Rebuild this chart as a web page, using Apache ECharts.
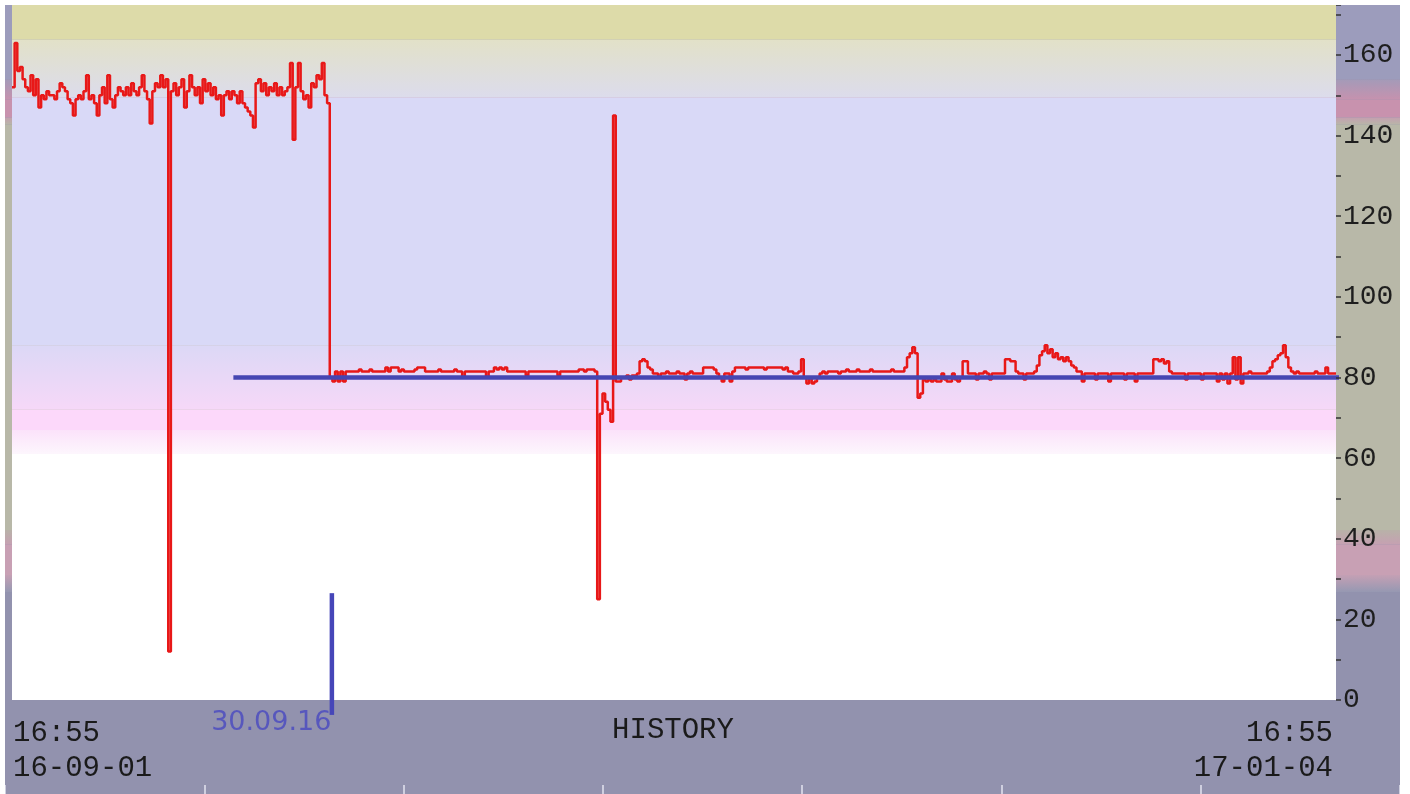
<!DOCTYPE html>
<html><head><meta charset="utf-8">
<script src="https://cdn.jsdelivr.net/npm/echarts@6/dist/echarts.min.js"></script>
<style>
html,body{margin:0;padding:0;background:#fff;width:1410px;height:794px;overflow:hidden}
#c{position:absolute;left:5px;top:5px;width:1395px;height:789px}
</style></head><body><div id="c"></div>
<script>
// ---- data ----
const startLabel = ['16:55', '16-09-01'];
const endLabel = ['16:55', '17-01-04'];
const titleText = 'HISTORY';
const markerLabel = '30.09.16';
const spanDays = 125;
const sampleStepDays = 0.25;
// readings before the setpoint change (every 6 h)
const tempHigh = [
152,163,156,157,154,152,151,155,150,154,
147,150,149,151,150,150,149,151,153,152,
151,149,148,145,149,150,149,151,155,149,
150,148,145,150,152,148,155,149,147,150,
152,151,150,152,150,153,151,150,152,155,
151,149,143,151,153,152,155,152,154,12,
151,153,150,152,154,147,151,155,152,150,
152,148,154,151,153,150,152,149,150,145,
150,151,149,151,150,148,151,148,147,146,
145,142,153,154,151,153,150,152,151,153,
150,152,150,151,152,158,139,152,158,151,
149,150,147,153,152,155,154,158,150,148
];
// readings after the setpoint change (every 6 h)
const tempLow = [
80,79,81.5,79,81.5,79,81.5,81.5,81.5,81.5,
81.5,82,81.5,81.5,81.5,82,81.5,81.5,81.5,81.5,
81.5,82.5,81.5,82.5,82.5,82.5,81.5,82,81.5,81.5,
81.5,81.5,82,82.5,82.5,82.5,81.5,81.5,81.5,81.5,
81.5,82,81.5,81.5,81.5,81.5,81.5,82,81.5,81.5,
80,81.5,81.5,81.5,81.5,81.5,81.5,81.5,81.5,80,
81.5,81.5,82.5,82,82.5,82,82.5,81.5,81.5,81.5,
81.5,81.5,81.5,81.5,80.5,81.5,81.5,81.5,81.5,81.5,
81.5,81.5,81.5,81.5,81.5,81.5,80.5,81.5,81.5,81.5,
81.5,81.5,81.5,81.5,82,82,81.5,82,82,82,
81.5,25,71,76,74,72,69,145,79,79,
80,80,80.5,79.5,80.5,80.5,81,84,84.5,84,
82.5,82,81,81,80,81,81,81.5,81,81,
81,81.5,81,81,79.5,81,81.5,81,81,81,
81,82.5,82.5,82.5,82.5,82,81,80,79,81,
81,79,81.5,82.5,82.5,82.5,82.5,82,82.5,82.5,
82.5,82.5,82.5,82.5,82,82.5,82.5,82.5,82.5,82.5,
82.5,82,82.5,81.5,81.5,81,81,81.5,84.5,80,
78.5,80,78.5,79,80,81,81.5,81,81.5,81.5,
81.5,81.5,81,81.5,81.5,82,81.5,81.5,81.5,82,
81.5,81.5,81.5,81.5,82,81.5,81.5,81.5,81.5,81.5,
81.5,81.5,82,81.5,81.5,81.5,81.5,82.5,85,86,
87.5,86,75,76,79.5,79,79.5,79,79.5,79,
79,81,79.5,79,79,81,79.5,79,80,84,
84,81,81,81,79.5,81,81,81.5,81,79.5,
81,81,81,81,81,84.5,84.5,84,84,81.5,
81,81,79.5,81,81,81,81.5,83,85.5,86.5,
88,86,87,85,86,84.5,85,84,85,84,
83,82.5,81.5,81.5,79,81,81,81,81,79.5,
81,81,81,81,79,81,81,81,81,81,
79.5,81,81,81,79,81,81,81,81,81,
81,84.5,84.5,84,84.5,83.5,84,81.5,81,81,
81,81,81,79.5,81,81,81,81,81,79.5,
81,81,81,81,81,79,81,79.5,81,78.5,
81,85,79.5,85,78.5,81,81,81.5,81,81,
81,81,81,81,81.5,82.5,84,84.5,85.5,86,
88,85,82.5,81.5,81,81.5,81,81,81,81,
81,81,81.5,81,81,81,82.5,81,81,81,81
];
const setpoint = 80;
const setpointFromDay = 20.9;
const setpointToDay = 125.4;
const markerDay = 30.2;
const markerRange = [26.5, -3.7];
const yMin = 0, yMax = 172.4, yTickStep = 10, yLabelStep = 20, yLabelMax = 160;
const plotBandLimits = [[163.8,172.4],[149.4,163.8],[88,149.4],[72,88],[67,72],[61,67],[0,61]];
const frameBandLimits = [[153.9,172.4],[148.9,153.9],[144.5,148.9],[142.7,144.5],[42.2,142.7],[38.5,42.2],[31,38.5],[26.8,31]];
const footTickCount = 7;

// ---- styles ----
const grad = (a, b) => ({type:'linear', x:0, y:0, x2:0, y2:1, colorStops:[{offset:0,color:a},{offset:1,color:b}]});
const plotBandColors = ['#dddba9', grad('#e2e1c8','#dcdcec'), '#d9d9f7', grad('#dcd8f6','#f6d8f8'), '#fcd8fa', grad('#fbe2fa','#fdf6fd'), '#ffffff'];
const frameBandColors = ['#9c9cbc', grad('#a49ab8','#c692ae'), '#c892ae', grad('#c4a0b0','#b8b6a8'), '#b8b8a8', grad('#b8b2a8','#c6a0b2'), '#c8a0b4', grad('#c4a0b4','#9698b2')];
const mono = 'Liberation Mono';

const readings = tempHigh.concat(tempLow).map((v, i) => [i * sampleStepDays, v]);

const chart = echarts.init(document.getElementById('c'), null, {renderer:'canvas'});
chart.setOption({
  animation: false,
  backgroundColor: '#9292ae',
  grid: [
    {left: 7, right: 64, top: 0, bottom: 94},
    {left: 0, right: 0, top: 0, bottom: 94},
    {left: -2, width: 1400, top: 780, height: 9}
  ],
  xAxis: [
    {gridIndex: 0, type: 'value', min: 0, max: spanDays, interval: spanDays, z: 10,
     axisLine:{show:false, onZero:false}, axisTick:{show:false}, splitLine:{show:false},
     axisLabel:{show:true, margin: 16, fontFamily: mono, fontSize: 29, lineHeight: 35, color:'#1a1a1a',
       alignMinLabel:'left', alignMaxLabel:'right', padding:[0,3,0,1],
       formatter: v => (v === 0 ? startLabel : endLabel).join('\n')}},
    {gridIndex: 1, type: 'value', min: 0, max: 1, show: false},
    {gridIndex: 2, type: 'value', min: 0, max: footTickCount, interval: 1, z: 10,
     axisLine:{show:false, onZero:false}, splitLine:{show:false}, axisLabel:{show:false},
     axisTick:{show:true, inside:true, length: 9, lineStyle:{color:'#e4e4f0', width:1.5}}}
  ],
  yAxis: [
    {gridIndex: 0, type: 'value', position: 'right', min: yMin, max: yMax, interval: yTickStep, z: 10,
     axisLine:{show:false, onZero:false}, splitLine:{show:false},
     axisTick:{show:true, length: 5, lineStyle:{color:'#333', width:1.5}},
     axisLabel:{margin: 7, fontFamily: mono, fontSize: 28, color:'#1e1e1e',
       formatter: v => (v % yLabelStep === 0 && v <= yLabelMax) ? String(v) : ''}},
    {gridIndex: 1, type: 'value', min: yMin, max: yMax, show: false},
    {gridIndex: 2, type: 'value', show: false}
  ],
  graphic: [
    {type:'text', x: 668, y: 711, z: 10, style:{text: titleText, fontFamily: mono, fontSize: 29, fill:'#1a1a1a', align:'center', verticalAlign:'top'}}
  ],
  series: [
    {type:'line', xAxisIndex:1, yAxisIndex:1, data: [], z: -2, silent: true,
     markArea:{silent:true, data: frameBandLimits.map((b, i) => [{yAxis:b[0], itemStyle:{color: frameBandColors[i], opacity:1}}, {yAxis:b[1]}])}},
    {type:'line', xAxisIndex:0, yAxisIndex:0, data: [], z: -1, silent: true,
     markArea:{silent:true, data: plotBandLimits.map((b, i) => [{yAxis:b[0], itemStyle:{color: plotBandColors[i], opacity:1}}, {yAxis:b[1]}])}},
    {type:'line', name:'temp', data: readings, step:'end', symbol:'none', z: 3, silent: true,
     lineStyle:{color:'#e81818', width: 2.5}},
    {type:'line', name:'setpoint', data: [[setpointFromDay, setpoint],[setpointToDay, setpoint]], symbol:'none', z: 4, clip: false, silent: true,
     lineStyle:{color:'#4646b2', width: 4.5}},
    {type:'line', name:'marker', data: [[markerDay, markerRange[0]],[markerDay, markerRange[1]]], symbol:'none', z: 4, clip: false, silent: true,
     lineStyle:{color:'#4646b8', width: 4.5}},
    {type:'scatter', data: [[markerDay, markerRange[1]]], symbolSize: 1, clip: false, z: 5, silent: true,
     itemStyle:{color:'rgba(0,0,0,0)'},
     label:{show:true, position:'left', distance: 0, offset:[0, 8], formatter: markerLabel,
       fontFamily:'DejaVu Sans', fontSize: 27, color:'#4848c0'}}
  ]
});
</script></body></html>
